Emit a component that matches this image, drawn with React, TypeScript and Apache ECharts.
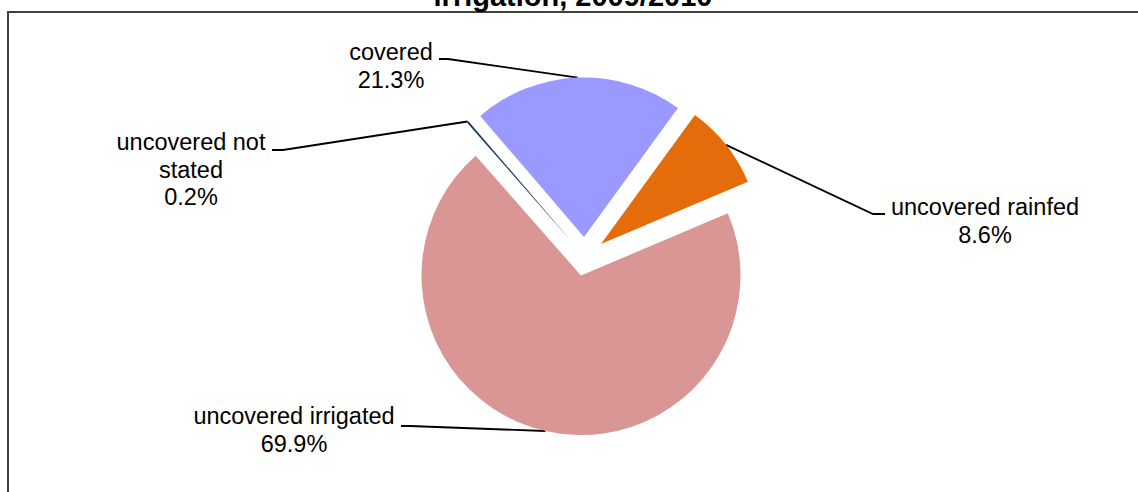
import React, { useEffect, useRef } from "react";
import * as echarts from "echarts";

// ---- data ----
const categories = ["covered", "uncovered rainfed", "uncovered irrigated", "uncovered not stated"];
const shares = [21.3, 8.6, 69.9, 0.2];
const labelNames = ["covered", "uncovered rainfed", "uncovered irrigated", "uncovered not\nstated"];
const titleText = "irrigation, 2009/2010";

// ---- styles / layout ----
const colors = ["#9999FF", "#E46C0A", "#D99694", "#17375E"];
const sliceCenters = [
  [584, 237],
  [601, 244],
  [581, 275.5],
  [572, 242],
];
const labelAnchors = [
  [391, 66],
  [985, 221],
  [294, 430],
  [191, 169.5],
];
const elbows = [
  [[448, 59], [439, 59]],
  [[873, 214], [885, 214]],
  [[410, 426], [401, 426]],
  [[283, 150], [272, 150]],
];
const FONT = '"Liberation Sans", Arial, sans-serif';

export default function App() {
  const ref = useRef<HTMLDivElement>(null);
  useEffect(() => {
    if (!ref.current) return;
    const chart = echarts.init(ref.current, null, { renderer: "svg" });
    const series = categories.map((_, k) => ({
      type: "pie",
      center: sliceCenters[k],
      radius: 159.5,
      startAngle: 130.6,
      clockwise: true,
      avoidLabelOverlap: false,
      silent: true,
      z: 2,
      data: categories.map((name, i) => ({
        name,
        value: shares[i],
        itemStyle: { color: i === k ? colors[i] : "rgba(0,0,0,0)", borderWidth: 0 },
        label: { show: i === k },
        labelLine: { show: i === k },
      })),
      label: {
        formatter: (p: any) => `${labelNames[p.dataIndex]}\n${Number(p.value).toFixed(1)}%`,
        fontFamily: FONT,
        fontSize: 23.5,
        lineHeight: 27.5,
        color: "#000",
        align: "center",
      },
      labelLine: {
        show: true,
        length: 10,
        length2: 10,
        smooth: false,
        lineStyle: { color: "#000", width: 1.9 },
      },
      labelLayout: (params: any) => {
        const pts = params.labelLinePoints;
        const res: any = {
          x: labelAnchors[k][0],
          y: labelAnchors[k][1],
          align: "center",
          verticalAlign: "middle",
        };
        if (pts && pts[0]) {
          res.labelLinePoints = [pts[0], elbows[k][0], elbows[k][1]];
        }
        return res;
      },
    }));

    chart.setOption({
      animation: false,
      backgroundColor: "#ffffff",
      graphic: [
        {
          type: "rect",
          z: -10,
          silent: true,
          shape: { x: 8, y: 12, width: 1300, height: 700 },
          style: { fill: "none", stroke: "#404040", lineWidth: 2 },
        },
        {
          type: "text",
          z: 10,
          x: 573,
          y: -4,
          style: {
            text: titleText,
            font: `bold 29px ${FONT}`,
            fill: "#000",
            textAlign: "center",
            textVerticalAlign: "middle",
            align: "center",
            verticalAlign: "middle",
          },
        },
      ],
      series,
    });
    return () => chart.dispose();
  }, []);
  return (
    <div
      ref={ref}
      style={{ position: "fixed", left: 0, top: 0, width: 1138, height: 492, background: "#fff" }}
    />
  );
}
